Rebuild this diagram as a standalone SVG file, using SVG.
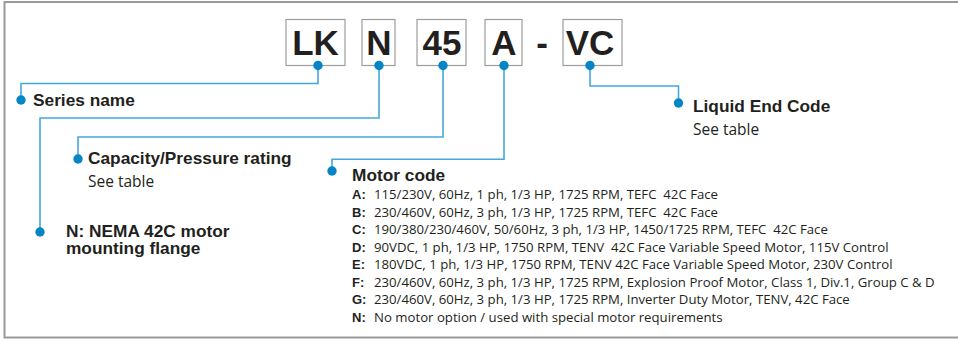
<svg xmlns="http://www.w3.org/2000/svg" width="958" height="341" viewBox="0 0 958 341">
<style>
.frame{fill:none;stroke:#9a9a9a;stroke-width:2}
.box{fill:#fff;stroke:#9d9d9d;stroke-width:1.2}
.code{font-family:"Liberation Sans",Arial,sans-serif;font-weight:bold;font-size:35px;fill:#231f20;text-anchor:middle}
.conn{fill:none;stroke:#45a8dd;stroke-width:1.6}
.dot{fill:#0585c5}
.h{font-family:"Liberation Sans",Arial,sans-serif;font-weight:bold;font-size:17.3px;fill:#231f20}
.sub{font-family:"Open Sans",sans-serif;font-size:15.5px;fill:#231f20}
.lb{font-family:"Liberation Sans",Arial,sans-serif;font-weight:bold;font-size:13px;fill:#231f20}
.d{font-family:"Open Sans",sans-serif;font-size:13.2px;fill:#231f20;white-space:pre}
</style>
<rect class="frame" x="4.5" y="2" width="965" height="335.5"/>

<g id="connectors">
  <path class="conn" d="M318 65 V83.5 H21 V100"/>
  <path class="conn" d="M379 65 V118 H40 V232"/>
  <path class="conn" d="M443 65 V137 H78 V159"/>
  <path class="conn" d="M504 65 V159.3 H332 V171"/>
  <path class="conn" d="M590 65 V86 H678.5 V103"/>
</g>

<g id="box-LK">
  <rect class="box" x="286" y="19.5" width="59" height="46"/>
  <text class="code" x="315.5" y="55">LK</text>
  <circle class="dot" cx="318" cy="65.5" r="4.7"/>
</g>
<g id="box-N">
  <rect class="box" x="362" y="19.5" width="33" height="46"/>
  <text class="code" x="379" y="55">N</text>
  <circle class="dot" cx="379" cy="65.5" r="4.7"/>
</g>
<g id="box-45">
  <rect class="box" x="417" y="19.5" width="49" height="46"/>
  <text class="code" x="442" y="55">45</text>
  <circle class="dot" cx="443" cy="65.5" r="4.7"/>
</g>
<g id="box-A">
  <rect class="box" x="485" y="19.5" width="37" height="46"/>
  <text class="code" x="504" y="55">A</text>
  <circle class="dot" cx="504" cy="65.5" r="4.7"/>
</g>
<g id="dash">
  <text class="code" x="542" y="55">-</text>
</g>
<g id="box-VC">
  <rect class="box" x="563" y="19.5" width="59" height="46"/>
  <text class="code" x="590" y="55">VC</text>
  <circle class="dot" cx="590" cy="65.5" r="4.7"/>
</g>

<g id="series-name">
  <circle class="dot" cx="21" cy="100" r="4.7"/>
  <text class="h" x="33" y="106">Series name</text>
</g>
<g id="nema-flange">
  <circle class="dot" cx="40" cy="232" r="4.7"/>
  <text class="h" x="66" y="237">N: NEMA 42C motor<tspan x="66" y="253.5">mounting flange</tspan></text>
</g>
<g id="capacity">
  <circle class="dot" cx="78" cy="159" r="4.7"/>
  <text class="h" x="88" y="164">Capacity/Pressure rating</text>
  <text class="sub" x="88" y="187">See table</text>
</g>
<g id="motor-code">
  <circle class="dot" cx="332" cy="171" r="4.7"/>
  <text class="h" x="352" y="181">Motor code</text>
  <text class="lb" x="352" y="199.3">A:</text>
  <text class="d" x="374" y="199.3" xml:space="preserve">115/230V, 60Hz, 1 ph, 1/3 HP, 1725 RPM, TEFC  42C Face</text>
  <text class="lb" x="352" y="216.8">B:</text>
  <text class="d" x="374" y="216.8" xml:space="preserve">230/460V, 60Hz, 3 ph, 1/3 HP, 1725 RPM, TEFC  42C Face</text>
  <text class="lb" x="352" y="234.3">C:</text>
  <text class="d" x="374" y="234.3" xml:space="preserve">190/380/230/460V, 50/60Hz, 3 ph, 1/3 HP, 1450/1725 RPM, TEFC  42C Face</text>
  <text class="lb" x="352" y="251.8">D:</text>
  <text class="d" x="374" y="251.8" xml:space="preserve">90VDC, 1 ph, 1/3 HP, 1750 RPM, TENV  42C Face Variable Speed Motor, 115V Control</text>
  <text class="lb" x="352" y="269.3">E:</text>
  <text class="d" x="374" y="269.3">180VDC, 1 ph, 1/3 HP, 1750 RPM, TENV 42C Face Variable Speed Motor, 230V Control</text>
  <text class="lb" x="352" y="286.8">F:</text>
  <text class="d" x="374" y="286.8">230/460V, 60Hz, 3 ph, 1/3 HP, 1725 RPM, Explosion Proof Motor, Class 1, Div.1, Group C &amp; D</text>
  <text class="lb" x="352" y="304.3">G:</text>
  <text class="d" x="374" y="304.3">230/460V, 60Hz, 3 ph, 1/3 HP, 1725 RPM, Inverter Duty Motor, TENV, 42C Face</text>
  <text class="lb" x="352" y="321.8">N:</text>
  <text class="d" x="374" y="321.8">No motor option / used with special motor requirements</text>
</g>
<g id="liquid-end">
  <circle class="dot" cx="678.5" cy="103" r="4.7"/>
  <text class="h" x="693" y="112">Liquid End Code</text>
  <text class="sub" x="693" y="134.5">See table</text>
</g>
</svg>
